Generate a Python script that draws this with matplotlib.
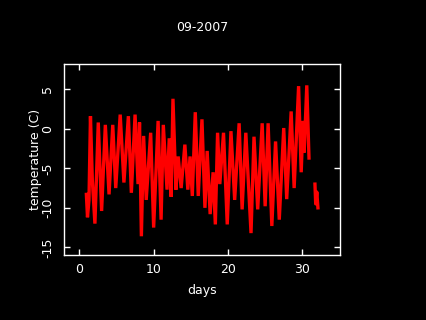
import matplotlib
matplotlib.use("Agg")
import matplotlib.pyplot as plt

# Temperature readings (day of month, deg C)
days = [0.95, 1.1, 1.3, 1.5, 1.75, 2.1, 2.55, 3.0, 3.5, 4.0, 4.5, 4.9, 5.5, 6.0,
        6.6, 7.0, 7.5, 7.9, 8.1, 8.35, 8.65, 9.0, 9.6, 10.0, 10.6, 11.0, 11.3,
        11.8, 12.1, 12.35, 12.6, 13.0, 13.3, 13.7, 14.2, 14.6, 14.9, 15.2, 15.6,
        16.0, 16.5, 16.9, 17.2, 17.6, 18.0, 18.3, 18.6, 18.9, 19.4, 19.9, 20.4,
        20.9, 21.5, 21.9, 22.4, 23.1, 23.5, 24.0, 24.6, 25.0, 25.4, 25.9, 26.4,
        26.9, 27.5, 27.9, 28.5, 28.9, 29.5, 29.85, 30.1, 30.25, 30.6, 30.9]
temps = [-8.3, -11.2, -9.0, 1.6, -6.5, -12.0, 0.8, -10.4, 0.5, -8.3, 0.5, -7.5,
         1.8, -6.8, 1.6, -8.1, 1.8, -7.0, 0.8, -13.6, -0.9, -9.0, -0.5, -12.5,
         1.0, -11.5, 0.5, -7.7, -1.2, -8.6, 3.8, -7.7, -3.5, -7.5, -2.0, -7.7,
         -3.5, -8.5, 2.1, -8.5, 1.2, -10.0, -2.8, -10.8, -5.5, -12.1, -0.5, -7.0,
         -0.5, -12.1, -0.3, -9.0, 0.7, -10.2, -0.5, -13.2, -1.0, -10.2, 0.7,
         -9.8, 0.7, -12.3, -1.6, -11.5, 0.1, -8.9, 2.2, -7.5, 5.4, -5.5, 1.0,
         -3.0, 5.5, -3.7]
# Separate short segment at the end of the month
days_end = [31.7, 31.8, 31.95, 32.1]
temps_end = [-7.0, -9.5, -8.0, -10.0]

xticks = [0, 10, 20, 30]
yticks = [-15, -10, -5, 0, 5]

W, H = 426, 320
fig = plt.figure(figsize=(W / 100, H / 100), dpi=100, facecolor="black")
L, R, T, B = 64, 340, 64, 255
ax = fig.add_axes([L / W, 1 - B / H, (R - L) / W, (B - T) / H], facecolor="black")

ax.plot(days, temps, color="#ff0000", lw=2.4, solid_joinstyle="miter")
ax.plot(days_end, temps_end, color="#ff0000", lw=2.4)

ax.set_xlim(-2.06, 35.07)
ax.set_ylim(-15.97, 8.2)
ax.set_xticks(xticks)
ax.set_yticks(yticks)
ax.set_yticklabels([str(v) for v in yticks], rotation=90, va="center")

for s in ax.spines.values():
    s.set_color("white")
    s.set_linewidth(1.0)
ax.tick_params(axis="both", which="both", direction="in", length=4.5, width=1.0,
               colors="white", labelsize=9, top=True, right=True)
ax.tick_params(axis="x", pad=6)
ax.tick_params(axis="y", pad=7)

ax.set_title("09-2007", color="white", fontsize=9, y=1 + (T - 36) / (B - T), va="center")
ax.set_xlabel("days", color="white", fontsize=9, va="center")
ax.xaxis.set_label_coords(0.5 - (L + (R - L) / 2 - 202) / (R - L), -(290.5 - B) / (B - T))
ax.set_ylabel("temperature (C)", color="white", fontsize=9, va="center")
ax.yaxis.set_label_coords(-(L - 35) / (R - L), 0.5)

fig.savefig("out.png", dpi=100, facecolor="black")
